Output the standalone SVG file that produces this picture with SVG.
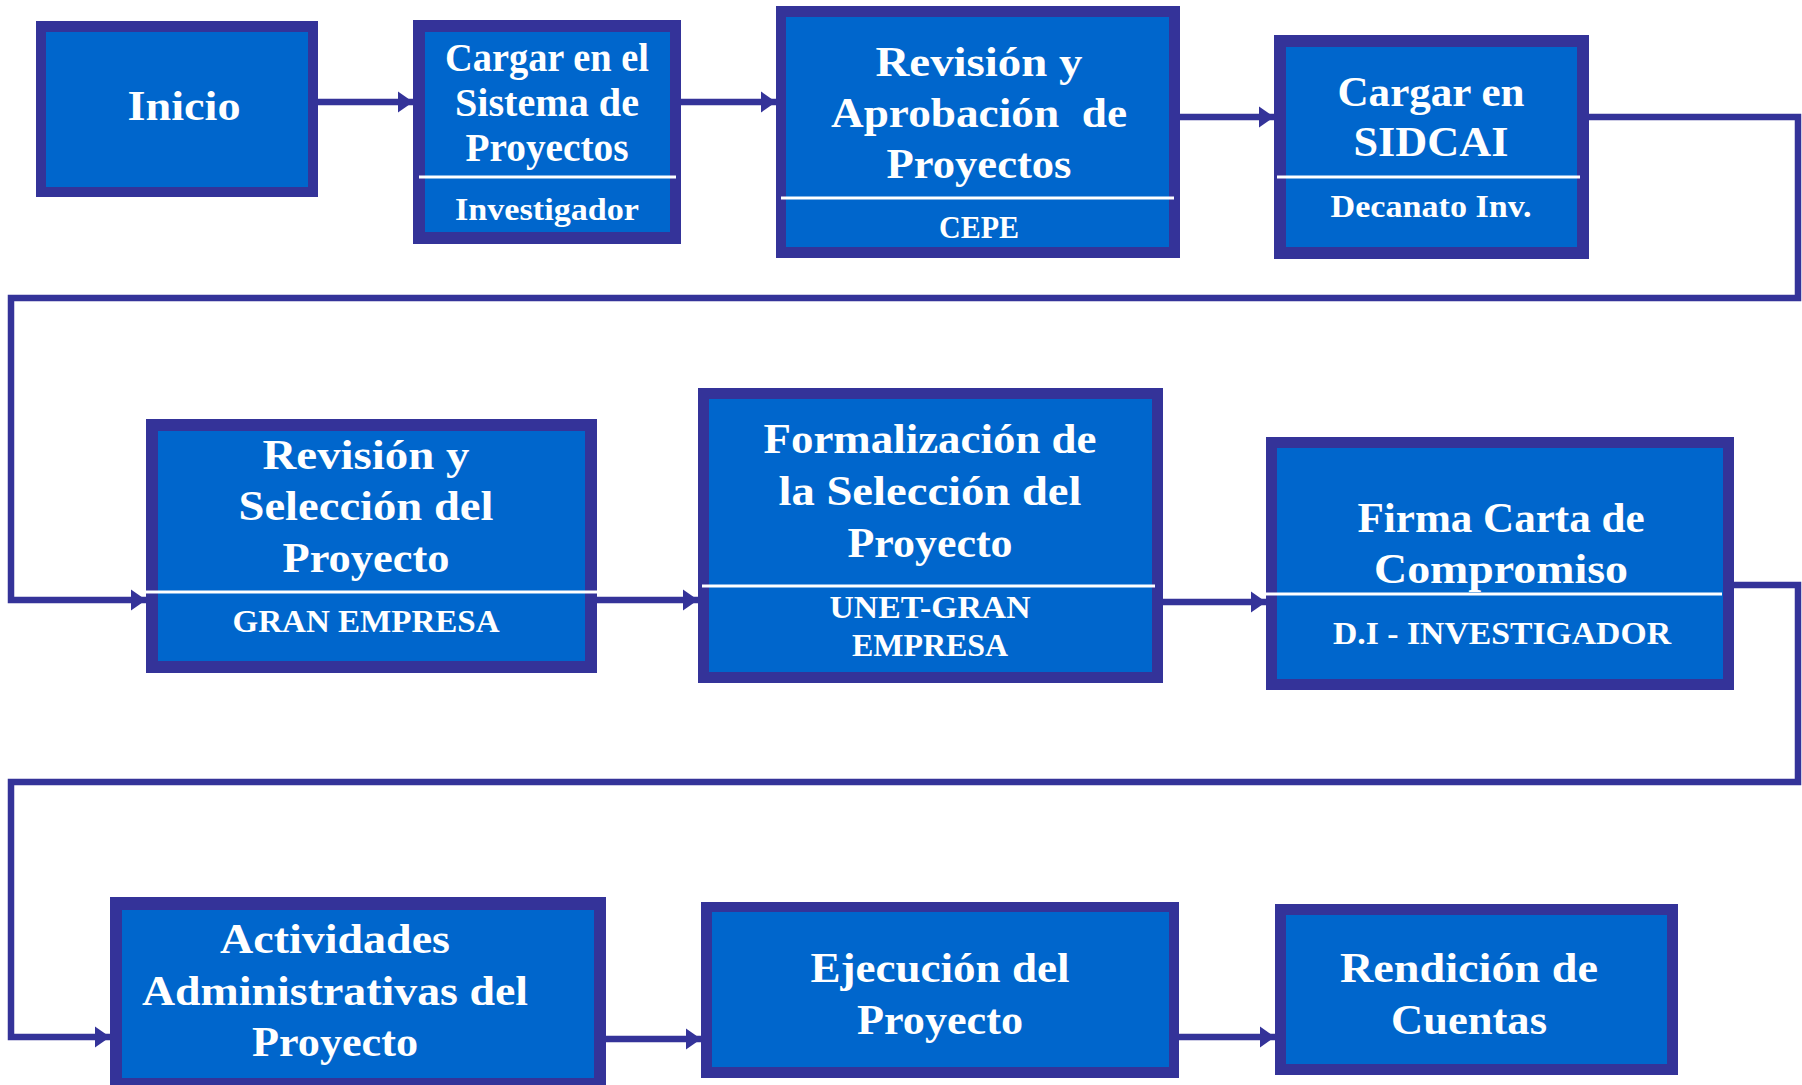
<svg xmlns="http://www.w3.org/2000/svg" width="1802" height="1085" viewBox="0 0 1802 1085">
<style>
.outer{fill:#343399}
.inner{fill:#0066cc}
.sep{stroke:#ffffff;stroke-width:3}
.t{font-family:"Liberation Serif","Times New Roman",serif;font-weight:bold;fill:#ffffff;text-anchor:middle}
.h{font-size:43px}
.h2{font-size:39px}
.s{font-size:32px}
.conn{fill:none;stroke:#343399;stroke-width:6.5}
</style>
<defs>
<marker id="arr" markerUnits="userSpaceOnUse" markerWidth="16" markerHeight="24" refX="15" refY="12" orient="auto">
<path d="M0,1.5 L15,12 L0,22.5 z" fill="#343399"/>
</marker>
</defs>
<rect width="1802" height="1085" fill="#ffffff"/>

<g id="connectors">
<path class="conn" d="M318,102 H413" marker-end="url(#arr)"/>
<path class="conn" d="M681,102 H776" marker-end="url(#arr)"/>
<path class="conn" d="M1180,117 H1274" marker-end="url(#arr)"/>
<path class="conn" d="M1589,117 H1798 V298 H11 V600 H146" marker-end="url(#arr)"/>
<path class="conn" d="M597,600 H698" marker-end="url(#arr)"/>
<path class="conn" d="M1163,602 H1266" marker-end="url(#arr)"/>
<path class="conn" d="M1734,585 H1798 V782 H11 V1037 H110" marker-end="url(#arr)"/>
<path class="conn" d="M606,1039 H701" marker-end="url(#arr)"/>
<path class="conn" d="M1179,1037 H1275" marker-end="url(#arr)"/>
</g>

<g id="inicio">
<rect class="outer" x="36" y="21" width="282" height="176"/>
<rect class="inner" x="46" y="32" width="262" height="155"/>
<text class="t h" x="184" y="120" textLength="113" lengthAdjust="spacingAndGlyphs">Inicio</text>
</g>

<g id="cargar-sistema">
<rect class="outer" x="413" y="20" width="268" height="224"/>
<rect class="inner" x="425" y="32" width="245" height="200"/>
<line class="sep" x1="419" y1="177" x2="676" y2="177"/>
<text class="t h2" x="547" y="71" textLength="204" lengthAdjust="spacingAndGlyphs">Cargar en el</text>
<text class="t h2" x="547" y="116" textLength="184" lengthAdjust="spacingAndGlyphs">Sistema de</text>
<text class="t h2" x="547" y="161" textLength="163" lengthAdjust="spacingAndGlyphs">Proyectos</text>
<text class="t s" x="547" y="220" textLength="184" lengthAdjust="spacingAndGlyphs">Investigador</text>
</g>

<g id="revision-aprobacion">
<rect class="outer" x="776" y="6" width="404" height="252"/>
<rect class="inner" x="786" y="17" width="383" height="230"/>
<line class="sep" x1="781" y1="198" x2="1174" y2="198"/>
<text class="t h" x="979" y="76" textLength="207" lengthAdjust="spacingAndGlyphs">Revisión y</text>
<text class="t h" x="979" y="127" textLength="296" lengthAdjust="spacingAndGlyphs" xml:space="preserve">Aprobación  de</text>
<text class="t h" x="979" y="178" textLength="185" lengthAdjust="spacingAndGlyphs">Proyectos</text>
<text class="t s" x="979" y="238" textLength="80" lengthAdjust="spacingAndGlyphs">CEPE</text>
</g>

<g id="cargar-sidcai">
<rect class="outer" x="1274" y="35" width="315" height="224"/>
<rect class="inner" x="1286" y="47" width="291" height="200"/>
<line class="sep" x1="1277" y1="177" x2="1580" y2="177"/>
<text class="t h" x="1431" y="106" textLength="187" lengthAdjust="spacingAndGlyphs">Cargar en</text>
<text class="t h" x="1431" y="156" textLength="155" lengthAdjust="spacingAndGlyphs">SIDCAI</text>
<text class="t s" x="1431" y="217" textLength="201" lengthAdjust="spacingAndGlyphs">Decanato Inv.</text>
</g>

<g id="revision-seleccion">
<rect class="outer" x="146" y="419" width="451" height="254"/>
<rect class="inner" x="158" y="431" width="427" height="230"/>
<line class="sep" x1="146" y1="592" x2="597" y2="592"/>
<text class="t h" x="366" y="469" textLength="207" lengthAdjust="spacingAndGlyphs">Revisión y</text>
<text class="t h" x="366" y="520" textLength="255" lengthAdjust="spacingAndGlyphs">Selección del</text>
<text class="t h" x="366" y="572" textLength="167" lengthAdjust="spacingAndGlyphs">Proyecto</text>
<text class="t s" x="366" y="632" textLength="267" lengthAdjust="spacingAndGlyphs">GRAN EMPRESA</text>
</g>

<g id="formalizacion">
<rect class="outer" x="698" y="388" width="465" height="295"/>
<rect class="inner" x="709" y="399" width="443" height="273"/>
<line class="sep" x1="702" y1="586" x2="1155" y2="586"/>
<text class="t h" x="930" y="453" textLength="333" lengthAdjust="spacingAndGlyphs">Formalización de</text>
<text class="t h" x="930" y="505" textLength="303" lengthAdjust="spacingAndGlyphs">la Selección del</text>
<text class="t h" x="930" y="557" textLength="165" lengthAdjust="spacingAndGlyphs">Proyecto</text>
<text class="t s" x="930" y="618" textLength="201" lengthAdjust="spacingAndGlyphs">UNET-GRAN</text>
<text class="t s" x="930" y="656" textLength="156" lengthAdjust="spacingAndGlyphs">EMPRESA</text>
</g>

<g id="firma-carta">
<rect class="outer" x="1266" y="437" width="468" height="253"/>
<rect class="inner" x="1277" y="448" width="446" height="231"/>
<line class="sep" x1="1266" y1="594" x2="1722" y2="594"/>
<text class="t h" x="1501" y="532" textLength="287" lengthAdjust="spacingAndGlyphs">Firma Carta de</text>
<text class="t h" x="1501" y="583" textLength="254" lengthAdjust="spacingAndGlyphs">Compromiso</text>
<text class="t s" x="1502" y="644" textLength="338" lengthAdjust="spacingAndGlyphs">D.I - INVESTIGADOR</text>
</g>

<g id="actividades">
<rect class="outer" x="110" y="897" width="496" height="193"/>
<rect class="inner" x="122" y="910" width="472" height="168"/>
<text class="t h" x="335" y="953" textLength="230" lengthAdjust="spacingAndGlyphs">Actividades</text>
<text class="t h" x="335" y="1005" textLength="386" lengthAdjust="spacingAndGlyphs">Administrativas del</text>
<text class="t h" x="335" y="1056" textLength="166" lengthAdjust="spacingAndGlyphs">Proyecto</text>
</g>

<g id="ejecucion">
<rect class="outer" x="701" y="902" width="478" height="176"/>
<rect class="inner" x="712" y="912" width="457" height="155"/>
<text class="t h" x="940" y="982" textLength="259" lengthAdjust="spacingAndGlyphs">Ejecución del</text>
<text class="t h" x="940" y="1034" textLength="166" lengthAdjust="spacingAndGlyphs">Proyecto</text>
</g>

<g id="rendicion">
<rect class="outer" x="1275" y="904" width="403" height="171"/>
<rect class="inner" x="1286" y="915" width="381" height="149"/>
<text class="t h" x="1469" y="982" textLength="258" lengthAdjust="spacingAndGlyphs">Rendición de</text>
<text class="t h" x="1469" y="1034" textLength="156" lengthAdjust="spacingAndGlyphs">Cuentas</text>
</g>
</svg>
